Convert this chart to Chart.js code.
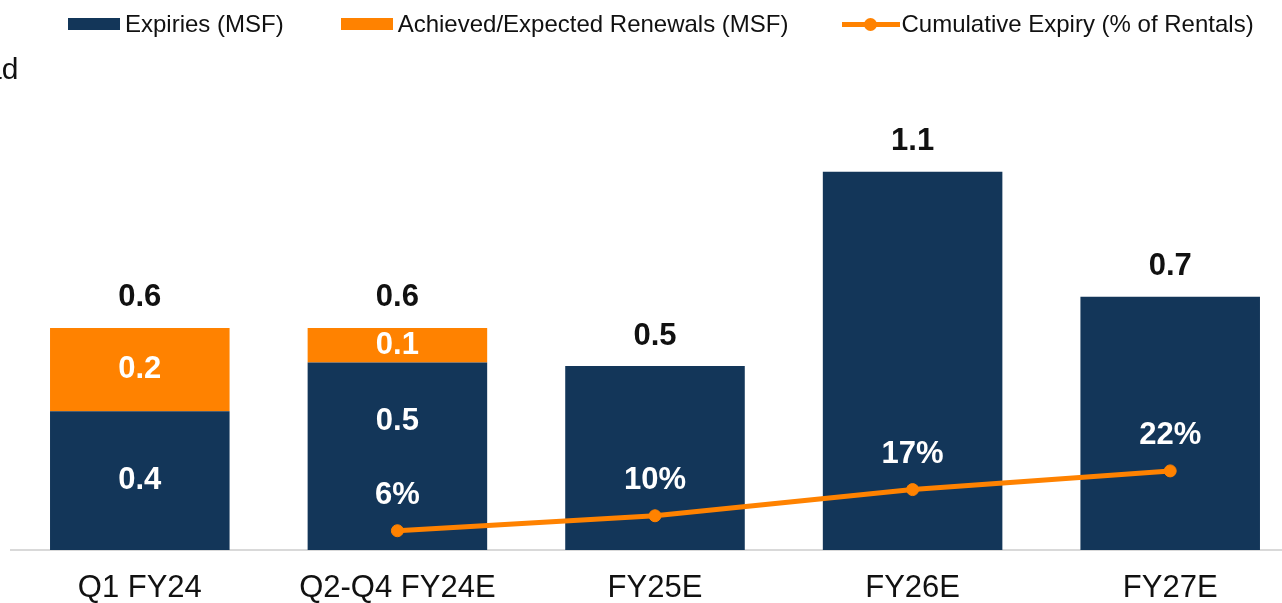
<!DOCTYPE html>
<html>
<head>
<meta charset="utf-8">
<script src="https://cdn.jsdelivr.net/npm/chart.js@4.4.0/dist/chart.umd.min.js"></script>
<style>
  html, body { margin: 0; padding: 0; background: #fff; overflow: hidden; width: 1282px; height: 603px; }
  body { position: relative; font-family: "Liberation Sans", Arial, sans-serif; color: #111; }
  #wrap { position: absolute; left: 0; top: 0; width: 1306px; height: 629px; }
  #cut { position: absolute; left: -15px; top: 54px; font-size: 30px; line-height: 1; }
  #legend { position: absolute; left: 68px; top: 10px; display: flex; align-items: center; font-size: 24px; line-height: 28px; }
  .item { display: flex; align-items: center; white-space: nowrap; }
  .box { width: 52px; height: 12px; margin-right: 5px; }
  .lineicon { position: relative; width: 58px; height: 5px; margin-right: 2px; }
  .lineicon span { position: absolute; left: 22px; top: -4px; width: 13px; height: 13px; border-radius: 50%; }
</style>
</head>
<body>
<div id="wrap"><canvas id="chart" width="1306" height="629"></canvas></div>
<div id="cut">ad</div>
<div id="legend"></div>
<script>
const categories = ['Q1 FY24', 'Q2-Q4 FY24E', 'FY25E', 'FY26E', 'FY27E'];
const expiries = [0.40, 0.54, 0.53, 1.09, 0.73];
const renewals = [0.24, 0.10, 0, 0, 0];
const cumulative = [null, 6, 10, 17, 22];

const seriesNames = ['Expiries (MSF)', 'Achieved/Expected Renewals (MSF)', 'Cumulative Expiry (% of Rentals)'];

const NAVY = '#133659';
const ORANGE = '#ff8200';
const FONT = '"Liberation Sans", Arial, sans-serif';

// Labels on and above the bars, and above the line points
const valueLabels = {
  id: 'valueLabels',
  afterDatasetsDraw(chart) {

    const { ctx } = chart;
    const expMeta = chart.getDatasetMeta(0);
    const renMeta = chart.getDatasetMeta(1);
    const lineMeta = chart.getDatasetMeta(2);

    ctx.save();
    ctx.font = 'bold 31px ' + FONT;
    ctx.textAlign = 'center';
    ctx.textBaseline = 'middle';

    categories.forEach((c, i) => {

      const exp = expMeta.data[i];
      const ren = renMeta.data[i];
      const top = Math.min(exp.y, ren.y);

      ctx.fillStyle = '#111';
      ctx.fillText((expiries[i] + renewals[i]).toFixed(1), exp.x, top - 30);

      ctx.fillStyle = '#fff';

      if (renewals[i] > 0) {

        ctx.fillText(renewals[i].toFixed(1), ren.x, (ren.y + ren.base) / 2);

        let y = (exp.y + exp.base) / 2;
        if (cumulative[i] !== null)
          y = (exp.y + lineMeta.data[i].y - 51) / 2;

        ctx.fillText(expiries[i].toFixed(1), exp.x, y);

      }

      if (cumulative[i] !== null) {
        const p = lineMeta.data[i];
        ctx.fillText(cumulative[i] + '%', p.x, p.y - 35);
      }

    });

    ctx.restore();

  }
};

const data = {
  labels: categories,
  datasets: [{
    label: seriesNames[0],
    data: expiries,
    backgroundColor: NAVY,
    stack: 'msf',
    order: 1
  }, {
    label: seriesNames[1],
    data: renewals,
    backgroundColor: ORANGE,
    stack: 'msf',
    order: 1
  }, {
    type: 'line',
    label: seriesNames[2],
    data: cumulative,
    yAxisID: 'y2',
    borderColor: ORANGE,
    backgroundColor: ORANGE,
    borderWidth: 5,
    pointRadius: 6,
    pointBorderWidth: 1,
    tension: 0,
    order: 0
  }]
};

new Chart(document.getElementById('chart'), {
  type: 'bar',
  data: data,
  plugins: [valueLabels],
  options: {
    responsive: false,
    animation: false,
    layout: { padding: { top: 60, left: 11, right: 3, bottom: 2 } },
    datasets: { bar: { categoryPercentage: 1, barPercentage: 0.697 } },
    scales: {
      x: {
        stacked: true,
        grid: { display: false, drawTicks: false },
        border: { color: '#d9d9d9', width: 2 },
        ticks: { color: '#111', padding: 23, font: { family: FONT, size: 31, lineHeight: 1 } }
      },
      y: { display: false, stacked: true, min: 0, max: 1.412 },
      y2: { display: false, min: 0.85, max: 131.87 }
    },
    plugins: {
      legend: { display: false },
      tooltip: { enabled: false }
    }
  }
});

// HTML legend built from the series names
const legend = document.getElementById('legend');
const gaps = [57, 53, 0];
seriesNames.forEach((name, i) => {
  const item = document.createElement('div');
  item.className = 'item';
  item.style.marginRight = gaps[i] + 'px';
  if (i < 2) {
    item.innerHTML = `<div class="box" style="background:${i === 0 ? NAVY : ORANGE}"></div>${name}`;
  } else {
    item.innerHTML = `<div class="lineicon" style="background:${ORANGE}"><span style="background:${ORANGE}"></span></div>${name}`;
  }
  legend.appendChild(item);
});
</script>
</body>
</html>
